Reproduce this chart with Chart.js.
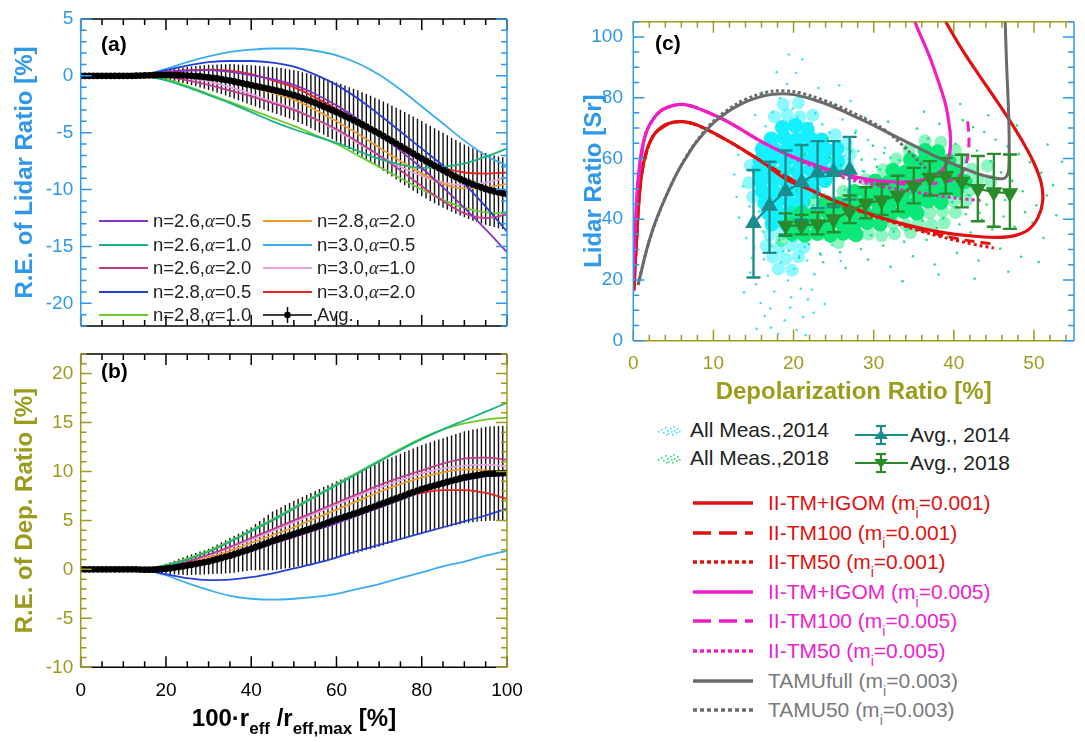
<!DOCTYPE html>
<html>
<head>
<meta charset="utf-8">
<title>Relative error and lidar ratio vs depolarization</title>
<script src="https://cdn.jsdelivr.net/npm/chart.js@4/dist/chart.umd.min.js"></script>
<style>
body { margin: 0; background: #fff; }
#page { position: relative; width: 1085px; height: 742px; overflow: hidden; font-family: "Liberation Sans", Arial, sans-serif; }
#page canvas { position: absolute; }
.tag { position: absolute; font-weight: bold; font-size: 21px; line-height: 21px; color: #000; }
.leg { position: absolute; white-space: nowrap; height: 20px; line-height: 20px; }
.leg svg { position: absolute; left: 0; top: 0; }
.leg span.t { position: absolute; top: 0; }
.gr { font-family: "Liberation Serif", "DejaVu Serif", serif; font-style: italic; }
#xtitleB { position: absolute; left: 294px; top: 706px; transform: translateX(-50%); font-weight: bold; font-size: 24px; line-height: 24px; white-space: nowrap; color: #000; }
#xtitleB sub { font-size: 17px; vertical-align: -8px; line-height: 0; }
.mi sub { font-size: 14px; vertical-align: -8px; line-height: 0; }
</style>
</head>
<body>
<div id="page">
  <canvas id="cA" width="540" height="345" style="left:0;top:0"></canvas>
  <canvas id="cB" width="540" height="407" style="left:0;top:335px"></canvas>
  <canvas id="cC" width="545" height="410" style="left:540px;top:0"></canvas>
  <div class="tag" style="left:101px;top:33px">(a)</div>
  <div class="tag" style="left:101px;top:360px">(b)</div>
  <div class="tag" style="left:655px;top:32px">(c)</div>
  <div id="xtitleB">100·r<sub>eff</sub> /r<sub>eff,max</sub> [%]</div>
  <div id="legA"></div>
  <div id="legC"></div>
</div>
<script>
// ---------- panels (a) and (b): relative errors vs 100*r_eff/r_eff,max ----------
var curveX = [0, 5, 10, 15, 20, 25, 30, 35, 40, 45, 50, 55, 60, 65, 70, 75, 80, 85, 90, 95, 100];

// R.E. of lidar ratio [%]
var lidar_26_05 = [0, 0, 0, 0.05, 0.3, 0.45, 0.5, 0.35, 0.05, -0.3, -0.8, -1.6, -2.6, -3.8, -5.1, -6.6, -8.1, -9.8, -11.6, -13.5, -15.5];
var lidar_26_10 = [0, 0, 0, -0.05, -0.4, -1.0, -1.7, -2.4, -3.2, -4.0, -4.7, -5.3, -5.9, -6.6, -7.3, -7.8, -8.1, -8.0, -7.7, -7.1, -6.4];
var lidar_26_20 = [0, 0, 0, 0, -0.1, -0.4, -0.8, -1.3, -1.8, -2.4, -3.0, -3.8, -4.7, -5.8, -7.0, -8.3, -9.7, -11.0, -12.1, -12.5, -12.2];
var lidar_28_05 = [0, 0, 0, 0.1, 0.5, 0.9, 1.2, 1.3, 1.3, 1.15, 0.8, 0.1, -0.8, -2.0, -3.4, -4.9, -6.4, -7.9, -9.5, -11.5, -13.7];
var lidar_28_10 = [0, 0, 0, -0.05, -0.3, -0.9, -1.6, -2.3, -3.0, -3.7, -4.4, -5.2, -6.0, -7.0, -8.0, -9.0, -10.0, -10.9, -11.6, -12.0, -12.1];
var lidar_28_20 = [0, 0, 0, 0.05, 0.15, 0.15, 0, -0.4, -1.0, -1.5, -2.1, -3.0, -4.0, -5.1, -6.3, -7.5, -8.6, -9.5, -9.9, -9.8, -9.5];
var lidar_30_05 = [0, 0, 0, 0.1, 0.6, 1.2, 1.7, 2.1, 2.3, 2.4, 2.4, 2.2, 1.8, 1.1, 0.1, -1.2, -2.7, -4.2, -5.7, -7.0, -7.9];
var lidar_30_10 = [0, 0, 0, 0, 0, -0.2, -0.5, -1.0, -1.6, -2.3, -2.9, -3.8, -4.8, -5.9, -7.0, -8.0, -8.8, -9.4, -9.6, -9.4, -8.9];
var lidar_30_20 = [0, 0, 0, 0.1, 0.35, 0.5, 0.55, 0.45, 0.15, -0.4, -1.0, -1.9, -2.9, -4.0, -5.2, -6.4, -7.4, -8.1, -8.5, -8.6, -8.5];

// R.E. of depolarization ratio [%]
var dep_26_05 = [0, 0, 0, 0, 0.15, 0.45, 0.9, 1.4, 1.9, 2.6, 3.3, 4.0, 4.7, 5.5, 6.3, 7.1, 7.9, 8.6, 9.1, 9.5, 9.6];
var dep_26_10 = [0, 0, 0, 0.05, 0.4, 1.0, 1.8, 2.8, 3.9, 5.0, 6.2, 7.4, 8.6, 9.8, 11.0, 12.2, 13.3, 14.3, 15.2, 16.1, 17.0];
var dep_26_20 = [0, 0, 0, 0.03, 0.3, 0.8, 1.5, 2.3, 3.2, 4.1, 5.0, 5.9, 6.8, 7.7, 8.6, 9.4, 10.1, 10.8, 11.3, 11.4, 11.2];
var dep_28_05 = [0, 0, 0, -0.1, -0.5, -0.9, -1.1, -1.05, -0.8, -0.4, 0.1, 0.6, 1.2, 1.9, 2.5, 3.1, 3.7, 4.3, 4.9, 5.5, 6.2];
var dep_28_10 = [0, 0, 0, 0.05, 0.45, 1.1, 1.9, 2.9, 4.0, 5.1, 6.3, 7.5, 8.7, 9.9, 11.1, 12.3, 13.4, 14.3, 14.9, 15.3, 15.5];
var dep_28_20 = [0, 0, 0, 0.02, 0.25, 0.65, 1.2, 1.9, 2.7, 3.5, 4.3, 5.2, 6.1, 7.0, 7.9, 8.7, 9.4, 9.9, 10.2, 10.1, 9.7];
var dep_30_05 = [0, 0, 0, -0.1, -0.6, -1.4, -2.1, -2.7, -3.0, -3.1, -3.0, -2.8, -2.5, -2.0, -1.5, -0.9, -0.3, 0.3, 0.8, 1.4, 1.9];
var dep_30_10 = [0, 0, 0, 0.03, 0.3, 0.75, 1.4, 2.2, 3.0, 3.9, 4.8, 5.7, 6.6, 7.5, 8.3, 9.1, 9.8, 10.3, 10.6, 10.7, 10.5];
var dep_30_20 = [0, 0, 0, 0, 0.1, 0.4, 0.9, 1.5, 2.2, 2.9, 3.7, 4.5, 5.2, 6.0, 6.7, 7.3, 7.8, 8.1, 8.1, 7.8, 7.2];

// average of the nine cases with its spread
var avgX = [0, 1, 2, 3, 4, 5, 6, 7, 8, 9, 10, 11, 12, 13, 14, 15, 16, 17, 18, 19, 20,
  21, 22, 23, 24, 25, 26, 27, 28, 29, 30, 31, 32, 33, 34, 35, 36, 37, 38, 39, 40,
  41, 42, 43, 44, 45, 46, 47, 48, 49, 50, 51, 52, 53, 54, 55, 56, 57, 58, 59, 60,
  61, 62, 63, 64, 65, 66, 67, 68, 69, 70, 71, 72, 73, 74, 75, 76, 77, 78, 79, 80,
  81, 82, 83, 84, 85, 86, 87, 88, 89, 90, 91, 92, 93, 94, 95, 96, 97, 98, 99, 100];
var avgLidar = [0, 0, 0, 0, 0, 0, 0, 0, 0, 0, 0, 0, 0,
  0.01, 0.02, 0.03, 0.04, 0.05, 0.06, 0.06, 0.06,
  0.06, 0.06, 0.05, 0.04, 0.02, 0, -0.03, -0.06, -0.1, -0.14,
  -0.19, -0.24, -0.3, -0.36, -0.42, -0.5, -0.58, -0.66, -0.74, -0.82,
  -0.9, -0.98, -1.06, -1.14, -1.22, -1.31, -1.4, -1.5, -1.6, -1.7,
  -1.83, -1.96, -2.1, -2.24, -2.38, -2.54, -2.7, -2.86, -3.02, -3.18,
  -3.36, -3.54, -3.72, -3.9, -4.08, -4.28, -4.48, -4.68, -4.88, -5.08,
  -5.3, -5.52, -5.74, -5.96, -6.18, -6.4, -6.62, -6.84, -7.06, -7.28,
  -7.49, -7.7, -7.9, -8.1, -8.3, -8.5, -8.7, -8.89, -9.07, -9.24,
  -9.4, -9.55, -9.69, -9.82, -9.94, -10.05, -10.15, -10.24, -10.32, -10.4];
var errLidar = [0, 0, 0, 0, 0, 0, 0, 0, 0, 0, 0,
  0.01, 0.03, 0.06, 0.1, 0.14, 0.18, 0.23, 0.28, 0.34, 0.4,
  0.47, 0.54, 0.61, 0.68, 0.75, 0.82, 0.89, 0.96, 1.03, 1.1,
  1.17, 1.24, 1.31, 1.38, 1.45, 1.51, 1.57, 1.63, 1.69, 1.75,
  1.8, 1.85, 1.9, 1.95, 2.0, 2.04, 2.08, 2.12, 2.16, 2.2,
  2.24, 2.28, 2.32, 2.36, 2.4, 2.44, 2.48, 2.52, 2.56, 2.6,
  2.64, 2.68, 2.72, 2.76, 2.8, 2.84, 2.88, 2.92, 2.96, 3.0,
  3.04, 3.08, 3.12, 3.16, 3.2, 3.22, 3.24, 3.26, 3.28, 3.3,
  3.3, 3.3, 3.3, 3.3, 3.3, 3.28, 3.26, 3.24, 3.22, 3.2,
  3.19, 3.18, 3.17, 3.16, 3.15, 3.15, 3.15, 3.15, 3.15, 3.15];
var avgDep = [0, 0, 0, 0, 0, 0, 0, 0, 0, 0, 0, 0, 0, 0,
  -0.02, -0.03, -0.03, -0.02, 0, 0.03, 0.07,
  0.12, 0.18, 0.25, 0.32, 0.4, 0.48, 0.56, 0.64, 0.72, 0.8,
  0.92, 1.04, 1.16, 1.28, 1.4, 1.54, 1.68, 1.82, 1.96, 2.1,
  2.26, 2.42, 2.58, 2.74, 2.9, 3.04, 3.18, 3.32, 3.46, 3.6,
  3.74, 3.88, 4.02, 4.16, 4.3, 4.46, 4.62, 4.78, 4.94, 5.1,
  5.24, 5.38, 5.52, 5.66, 5.8, 5.96, 6.12, 6.28, 6.44, 6.6,
  6.76, 6.92, 7.08, 7.24, 7.4, 7.56, 7.72, 7.88, 8.04, 8.2,
  8.32, 8.44, 8.56, 8.68, 8.8, 8.92, 9.04, 9.16, 9.28, 9.4,
  9.47, 9.54, 9.61, 9.68, 9.75, 9.77, 9.79, 9.81, 9.83, 9.85];
var errDep = [0, 0, 0, 0, 0, 0, 0, 0, 0, 0, 0, 0, 0,
  0.02, 0.05, 0.1, 0.18, 0.26, 0.34, 0.42, 0.5,
  0.6, 0.7, 0.8, 0.9, 1.0, 1.06, 1.12, 1.18, 1.24, 1.3,
  1.4, 1.5, 1.6, 1.7, 1.8, 1.88, 1.96, 2.04, 2.12, 2.2,
  2.36, 2.52, 2.68, 2.84, 3.0, 3.08, 3.16, 3.24, 3.32, 3.4,
  3.46, 3.52, 3.58, 3.64, 3.7, 3.74, 3.78, 3.82, 3.86, 3.9,
  3.94, 3.98, 4.02, 4.06, 4.1, 4.14, 4.18, 4.22, 4.26, 4.3,
  4.32, 4.34, 4.36, 4.38, 4.4, 4.42, 4.44, 4.46, 4.48, 4.5,
  4.52, 4.54, 4.56, 4.58, 4.6, 4.62, 4.64, 4.66, 4.68, 4.7,
  4.72, 4.74, 4.76, 4.78, 4.8, 4.81, 4.82, 4.83, 4.84, 4.85];

var caseN = ['2.6', '2.6', '2.6', '2.8', '2.8', '2.8', '3.0', '3.0', '3.0'];
var caseAlpha = ['0.5', '1.0', '2.0', '0.5', '1.0', '2.0', '0.5', '1.0', '2.0'];
var caseColors = ['#8136c6', '#17b584', '#c23b8c', '#2340d8', '#6acb2d', '#f29b2a', '#3aaef0', '#e6a3de', '#e4251f'];
var caseLidar = [lidar_26_05, lidar_26_10, lidar_26_20, lidar_28_05, lidar_28_10, lidar_28_20, lidar_30_05, lidar_30_10, lidar_30_20];
var caseDep = [dep_26_05, dep_26_10, dep_26_20, dep_28_05, dep_28_10, dep_28_20, dep_30_05, dep_30_10, dep_30_20];

// ---------- panel (c): lidar ratio vs depolarization ratio ----------
// all measurements: dense core, softer halo, and scattered single points
var meas2014Core = [[18.6,70.2],[20.2,70.8],[21.7,69.6],
  [17.2,66.4],[18.8,66.9],[20.4,66.2],[22.0,66.8],[23.5,66.1],
  [16.1,63.1],[17.7,62.6],[19.3,63.3],[20.9,62.8],[22.5,63.4],[24.1,62.7],[25.4,63.2],
  [15.8,59.4],[17.4,59.9],[19.0,59.2],[20.6,59.8],[22.2,59.3],[23.8,59.9],[25.5,59.1],
  [15.7,56.1],[17.3,55.6],[18.9,56.3],[20.5,55.8],[22.1,56.4],[23.7,55.7],[25.2,56.2],
  [15.9,52.4],[17.5,52.9],[19.1,52.2],[20.7,52.8],[22.3,52.3],[23.9,52.7],
  [16.1,49.2],[17.7,48.7],[19.3,49.3],[20.9,48.8],[22.5,49.1],
  [16.4,45.4],[18.0,45.9],[19.6,45.3],[21.2,45.8],
  [16.8,42.1],[18.4,41.6],[20.0,42.2],[21.4,41.7],
  [17.3,38.4],[18.9,38.9],[20.4,38.3]];
var meas2014Halo = [[17.0,34.8],[18.6,35.3],[20.2,34.6],[21.6,35.2],[16.6,31.2],[18.2,30.6],[19.8,31.4],[21.3,30.8],
  [17.4,27.5],[19.0,27.0],[20.6,27.7],[18.1,23.6],[19.8,23.2],
  [17.6,73.8],[19.2,74.4],[20.8,73.6],[22.4,74.2],[18.7,77.8],[20.6,78.3],
  [26.8,58.0],[27.1,61.6],[26.6,64.9],[25.2,67.8],[14.6,57.7],[14.4,52.0],[14.9,47.3],[23.9,45.6],[22.9,42.3]];
var meas2014Dots = [[13.2,40.5],[14.1,33.8],[14.8,27.2],[15.3,18.6],[15.9,12.4],[16.4,8.1],[17.2,4.3],[18.1,2.2],
  [18.9,6.7],[19.6,10.9],[20.4,3.5],[21.2,7.8],[21.8,13.6],[22.5,9.2],[16.8,21.4],[17.6,16.2],[18.4,25.7],
  [19.3,19.8],[20.1,23.6],[20.9,17.1],[21.7,26.4],[22.6,21.9],[23.4,28.3],[15.1,30.5],[16.2,35.9],[14.5,44.2],
  [13.7,50.8],[14.9,57.3],[15.6,64.1],[16.5,70.6],[17.4,75.2],[18.3,79.8],[19.2,84.5],[20.3,88.1],[21.1,92.6],
  [19.9,76.4],[21.8,80.3],[22.7,74.9],[23.6,71.2],[24.5,68.5],[25.4,64.3],[26.3,60.8],[27.2,57.6],[28.1,62.4],
  [29.3,66.1],[30.2,59.7],[31.4,63.5],[27.8,69.2],[26.1,72.8],[24.9,77.5],[23.1,83.2],[17.9,88.4],[16.1,81.7],
  [15.2,74.3],[14.3,67.9],[13.1,61.2],[12.6,54.7],[12.9,47.3],[17.3,31.2],[18.7,29.4],[19.8,32.6],[21.4,30.8],
  [22.9,33.7],[24.2,36.4],[25.6,39.8],[24.7,45.3],[26.4,49.7],[27.5,52.3],[28.6,55.8],[15.7,42.6],[16.9,48.9],
  [18.2,54.6],[19.5,58.3],[20.6,61.9],[21.9,65.4],[23.2,62.7],[22.1,55.1],[20.8,51.4],[19.1,47.2],[17.8,43.5],
  [16.6,39.1],[18.5,37.8],[20.2,40.3],[22.4,44.6],[23.8,48.2],[25.1,52.9],[26.7,56.2],[14.6,22.4],[13.8,15.9],
  [19.7,14.3],[22.3,16.8],[23.9,12.1],[17.1,10.6],[20.7,27.9],[16.3,26.8],[24.8,31.5],[25.9,26.2],[15.4,3.9],
  [21.5,1.8],[18.6,69.3],[20.5,73.7],[22.2,71.6],[17.5,64.8],[16.4,58.7],[15.8,52.1],[29.7,51.6],[30.8,56.4],
  [32.1,60.2],[28.9,73.5],[27.1,78.9],[25.7,84.1],[19.4,94.2]];
var meas2018Core = [[19.8,35.2],[21.4,34.7],[23.0,35.3],[24.6,34.8],[26.2,35.4],[27.8,34.9],
  [19.6,38.6],[21.2,38.1],[22.8,38.7],[24.4,38.2],[26.0,38.8],[27.6,38.3],[29.2,38.9],[30.8,38.4],
  [21.0,42.1],[22.6,41.6],[24.2,42.2],[25.8,41.7],[27.4,42.3],[29.0,41.8],[30.6,42.4],[32.2,41.9],[33.8,42.5],[35.4,42.0],
  [24.0,45.6],[25.6,45.1],[27.2,45.7],[28.8,45.2],[30.4,45.8],[32.0,45.3],[33.6,45.9],[35.2,45.4],[36.8,46.0],[38.4,45.5],
  [27.6,49.1],[29.2,48.6],[30.8,49.2],[32.4,48.7],[34.0,49.3],[35.6,48.8],[37.2,49.4],[38.8,48.9],[40.4,49.5],
  [30.2,52.6],[31.8,52.1],[33.4,52.7],[35.0,52.2],[36.6,52.8],[38.2,52.3],[39.8,52.9],[41.4,52.4],
  [32.4,56.1],[34.0,55.6],[35.6,56.2],[37.2,55.7],[38.8,56.3],[40.4,55.8],
  [34.6,59.6],[36.2,59.1],[37.8,59.7],[39.4,59.2],[36.4,62.6],[38.0,62.2]];
var meas2018Halo = [[32.4,38.6],[34.0,38.1],[35.6,38.7],[37.2,38.2],[38.8,38.8],[29.4,35.1],[31.0,34.6],[32.6,35.2],[34.6,35.6],
  [37.0,42.1],[38.6,42.6],[40.2,42.2],[40.0,45.9],[41.6,46.3],[42.0,49.6],[43.0,53.0],[42.2,56.4],[41.0,59.8],
  [40.2,62.8],[38.4,65.3],[36.4,65.8],[34.4,63.0],[32.8,59.8],[31.2,56.3],[29.0,53.0],[26.2,49.2],[22.6,45.6],[19.8,42.2],
  [18.5,33.0],[25.6,32.3],[44.2,57.6],[44.6,52.5]];
var meas2018Dots = [[18.2,33.1],[19.4,29.6],[20.7,27.3],[21.9,31.8],[23.3,28.7],[24.6,32.4],[25.8,29.1],[27.1,33.6],
  [28.4,30.2],[29.7,34.7],[31.2,31.3],[32.5,35.9],[33.8,32.6],[35.2,36.4],[36.6,33.2],[37.9,37.1],[39.3,34.4],
  [40.7,38.3],[42.1,35.6],[43.5,39.8],[44.8,36.7],[46.2,40.9],[47.6,37.5],[48.9,42.3],[50.3,44.6],[51.6,47.8],
  [52.4,51.2],[50.9,55.3],[49.5,58.7],[48.1,61.4],[46.7,63.9],[45.2,66.2],[43.8,68.7],[42.4,70.3],[41.1,72.6],
  [39.6,68.9],[38.2,71.4],[36.8,66.5],[35.4,69.8],[34.1,63.7],[32.7,66.9],[31.3,61.8],[29.9,64.2],[28.5,59.6],
  [27.2,62.3],[25.9,57.8],[24.5,60.4],[23.1,55.2],[21.8,52.7],[20.4,49.3],[19.1,46.8],[22.6,48.1],[24.1,51.6],
  [26.3,53.4],[28.8,55.7],[30.4,57.2],[33.2,59.4],[37.4,63.1],[40.2,64.8],[42.9,62.5],[44.6,59.1],[45.9,55.4],
  [47.3,52.6],[48.6,49.2],[46.4,46.3],[44.1,44.8],[43.2,42.1],[41.5,41.6],[38.7,40.2],[36.1,39.5],[33.5,38.4],
  [30.9,37.2],[28.2,36.1],[25.4,35.3],[22.8,34.8],[20.1,36.9],[19.6,41.7],[21.3,44.5],[23.7,25.8],[26.5,23.9],
  [29.3,26.7],[32.1,24.3],[34.9,27.8],[37.6,25.1],[40.4,28.9],[43.1,26.4],[45.8,30.3],[48.4,27.6],[51.2,33.8],
  [49.8,38.9],[52.8,41.3],[53.5,58.9],[51.7,64.6],[47.9,70.8],[44.3,74.2],[40.8,77.9],[36.3,75.4],[31.8,72.1],
  [27.7,68.4],[24.2,66.7],[21.4,61.3],[19.8,56.2],[46.8,22.7],[42.6,20.4],[38.1,21.8],[33.6,19.6],[50.6,25.9],
  [35.7,42.8],[39.8,45.6],[41.9,47.9],[37.2,44.1],[34.4,41.5]];

var avg2014X = [15, 17, 19, 21, 23, 25, 27];
var avg2014Y = [38.7, 44.4, 49.2, 52.1, 55.3, 55.5, 56.2];
var avg2014Lo = [20.8, 28.9, 35.0, 39.8, 43.6, 44.0, 46.5];
var avg2014Hi = [56.2, 58.9, 62.6, 64.4, 65.7, 65.7, 67.1];
var avg2018X = [19, 21, 23, 25, 27, 29, 31, 33, 35, 37, 39, 41, 43, 45, 47];
var avg2018Y = [37.9, 37.9, 38.4, 40.0, 42.5, 45.2, 46.2, 47.8, 51.0, 53.7, 54.3, 52.4, 50.0, 48.9, 48.6];
var avg2018Lo = [34.5, 35.0, 35.0, 35.7, 38.7, 40.3, 41.4, 42.5, 45.2, 47.8, 48.4, 43.9, 39.3, 37.5, 36.8];
var avg2018Hi = [41.9, 41.4, 42.3, 44.9, 47.8, 50.5, 51.6, 54.3, 56.9, 59.1, 60.1, 61.2, 60.8, 61.5, 61.3];

// model curves (depolarization ratio, lidar ratio)
var igom001X = [0.1, 0.3, 0.6, 1.0, 1.6, 2.5, 3.8, 5.0, 6.2, 7.5, 9.0, 12.0, 16.0, 19.0, 22.0, 25.0, 28.0, 31.0, 34.0, 37.0, 40.0, 43.0, 45.5, 47.5, 49.3, 50.5, 51.1, 50.9, 50.0, 48.6, 46.9, 45.0, 43.0, 41.0, 39.2, 38.6];
var igom001Y = [16.5, 28, 42, 54, 62, 67.5, 70.8, 71.9, 72.1, 71.4, 69.8, 65.5, 59.0, 53.2, 49.8, 46.2, 43.2, 40.5, 38.2, 36.4, 35.1, 34.3, 34.0, 34.5, 36.5, 40.5, 46.0, 52.0, 58.5, 65.5, 72.8, 80.3, 88.0, 96.0, 104.0, 107];
var tm100_001X = [0.3, 1.0, 2.5, 5.0, 7.5, 12.0, 16.0, 22.0, 28.0, 34.0, 37.0, 39.5, 41.5, 43.5, 45.0];
var tm100_001Y = [28, 54, 67.5, 71.9, 71.4, 65.5, 59.0, 49.8, 43.0, 37.9, 35.7, 34.1, 33.1, 32.3, 31.8];
var tm50_001X = [0.3, 1.0, 2.5, 5.0, 7.5, 12.0, 16.0, 22.0, 28.0, 34.0, 37.0, 39.5, 41.5, 43.5, 45.0];
var tm50_001Y = [28, 54, 67.5, 71.9, 71.4, 65.5, 59.0, 49.8, 42.9, 37.6, 35.2, 33.5, 32.3, 31.2, 30.5];
var igom005X = [0, 0.2, 0.5, 1.0, 1.6, 2.5, 3.5, 4.8, 6.2, 7.5, 9.0, 12.0, 16.0, 19.3, 22.0, 25.0, 28.0, 31.0, 34.0, 36.5, 38.3, 39.3, 39.6, 39.4, 38.9, 38.0, 36.9, 35.6, 35.0];
var igom005Y = [20, 35, 50, 62, 68.5, 73, 75.8, 77.3, 77.8, 77.0, 75.5, 71.8, 65.5, 61.2, 58.5, 55.8, 53.8, 52.5, 52.3, 53.2, 55.5, 59.5, 65.5, 71.5, 78.5, 86, 94, 102, 106];
var tm100_005X = [0.5, 1.6, 3.5, 6.2, 9.0, 12.0, 16.0, 19.3, 22.0, 25.0, 28.0, 31.0, 34.0, 37.0, 39.5, 41.0, 41.7, 41.9, 41.7];
var tm100_005Y = [50, 68.5, 75.8, 77.8, 75.5, 71.8, 65.5, 61.2, 58.3, 55.4, 53.2, 52.0, 51.6, 51.7, 52.6, 55.0, 60.0, 66.5, 73.0];
var tm50_005X = [0.5, 1.6, 3.5, 6.2, 9.0, 12.0, 16.0, 19.3, 22.0, 25.0, 28.0, 31.0, 34.0, 37.0, 40.0, 43.5];
var tm50_005Y = [50, 68.5, 75.8, 77.8, 75.5, 71.8, 65.5, 61.0, 57.8, 54.8, 52.5, 50.8, 49.4, 48.2, 47.0, 46.1];
var tamuFullX = [0.6, 1.2, 1.8, 2.6, 3.5, 4.5, 5.6, 6.6, 7.6, 8.8, 10.1, 11.5, 13.0, 15.0, 17.5, 20.0, 22.4, 24.5, 26.6, 28.7, 30.8, 32.9, 34.9, 37.0, 39.1, 41.2, 43.2, 44.6, 45.7, 46.4, 46.8, 46.9, 46.9, 46.8, 46.6, 46.4];
var tamuFullY = [18.4, 25, 31.2, 38, 44, 50, 55.9, 60.3, 64.4, 68.3, 71.9, 74.8, 77.3, 79.6, 81.1, 81.0, 79.4, 77.5, 75.1, 72.5, 69.8, 67.0, 64.4, 61.6, 59.1, 56.8, 54.8, 53.8, 53.3, 53.6, 55.5, 60, 68, 78, 90, 106];
var tamu50X = [0.6, 1.8, 3.5, 5.6, 7.6, 10.1, 13.0, 15.0, 17.5, 20.0, 22.4, 24.5, 26.6, 28.7, 30.8, 32.6, 34.2, 35.5, 36.8];
var tamu50Y = [18.4, 31.2, 44, 55.9, 64.6, 72.5, 78.1, 80.5, 82.2, 82.0, 80.4, 78.4, 76.0, 73.3, 70.4, 66.8, 62.8, 59.3, 56.0];

var modelNames = ['II-TM+IGOM', 'II-TM100', 'II-TM50', 'II-TM+IGOM', 'II-TM100', 'II-TM50', 'TAMUfull', 'TAMU50'];
var modelMi = ['0.001', '0.001', '0.001', '0.005', '0.005', '0.005', '0.003', '0.003'];

// ---------- colours ----------
var blueAx = '#2e98ec';
var oliveAx = '#9c9c1c';
var cRed = '#e0120f', cMag = '#f01fc4', cGrey = '#6a6a6a';
var cTeal = '#1b8d8d', cGreen = '#2b8a2b';

Chart.defaults.font.family = '"Liberation Sans", Arial, sans-serif';

function pts(xs, ys) {
  var out = [];
  for (var i = 0; i < xs.length; i++) out.push({ x: xs[i], y: ys[i] });
  return out;
}
function pairs(list) {
  return list.map(function (p) { return { x: p[0], y: p[1] }; });
}

// frame with inward major/minor ticks on all four sides
function isMult(v, step) { return Math.abs(v / step - Math.round(v / step)) < 1e-6; }
var frameTicks = {
  id: 'frame',
  afterDatasetsDraw: function (chart, args, o) {
    var ctx = chart.ctx, a = chart.chartArea, xs = chart.scales.x, ys = chart.scales.y;
    var i, n, v, p, len, first;
    ctx.save();
    ctx.lineWidth = 1.5;
    ctx.strokeStyle = o.xColor;
    ctx.beginPath();
    ctx.moveTo(a.left, a.top); ctx.lineTo(a.right, a.top);
    ctx.moveTo(a.left, a.bottom); ctx.lineTo(a.right, a.bottom);
    first = Math.ceil(xs.min / o.xMinor - 1e-9);
    n = Math.floor(xs.max / o.xMinor + 1e-9);
    for (i = first; i <= n; i++) {
      v = i * o.xMinor; p = xs.getPixelForValue(v);
      len = isMult(v, o.xMajor) ? 11 : 6;
      ctx.moveTo(p, a.top); ctx.lineTo(p, a.top + len);
      ctx.moveTo(p, a.bottom); ctx.lineTo(p, a.bottom - len);
    }
    ctx.stroke();
    ctx.strokeStyle = o.yColor;
    ctx.beginPath();
    ctx.moveTo(a.left, a.top); ctx.lineTo(a.left, a.bottom);
    ctx.moveTo(a.right, a.top); ctx.lineTo(a.right, a.bottom);
    first = Math.ceil(ys.min / o.yMinor - 1e-9);
    n = Math.floor(ys.max / o.yMinor + 1e-9);
    for (i = first; i <= n; i++) {
      v = i * o.yMinor; p = ys.getPixelForValue(v);
      len = isMult(v, o.yMajor) ? 11 : 6;
      ctx.moveTo(a.left, p); ctx.lineTo(a.left + len, p);
      ctx.moveTo(a.right, p); ctx.lineTo(a.right - len, p);
    }
    ctx.stroke();
    ctx.restore();
  }
};

// vertical error bars, drawn through the chart scales
function drawErr(chart, i) {
  var ds = chart.data.datasets[i];
  if (!ds.errLo) return;
  var ctx = chart.ctx, xs = chart.scales.x, ys = chart.scales.y, a = chart.chartArea;
  ctx.save();
  ctx.beginPath();
  ctx.rect(a.left, a.top, a.right - a.left, a.bottom - a.top);
  ctx.clip();
  ctx.strokeStyle = ds.errColor;
  ctx.lineWidth = ds.errWidth;
  ctx.beginPath();
  for (var j = 0; j < ds.data.length; j++) {
    var px = xs.getPixelForValue(ds.data[j].x);
    var p1 = ys.getPixelForValue(ds.errLo[j]), p2 = ys.getPixelForValue(ds.errHi[j]);
    ctx.moveTo(px, p1); ctx.lineTo(px, p2);
    if (ds.errCap) {
      ctx.moveTo(px - ds.errCap, p1); ctx.lineTo(px + ds.errCap, p1);
      ctx.moveTo(px - ds.errCap, p2); ctx.lineTo(px + ds.errCap, p2);
    }
  }
  ctx.stroke();
  ctx.restore();
}
var errorBars = {
  id: 'errorBars',
  beforeDatasetsDraw: function (chart) {
    chart.data.datasets.forEach(function (ds, i) { if (ds.errUnder) drawErr(chart, i); });
  },
  beforeDatasetDraw: function (chart, args) {
    if (!chart.data.datasets[args.index].errUnder) drawErr(chart, args.index);
  }
};

function relErrSets(values, avg, err) {
  var sets = [];
  var lo = [], hi = [];
  for (var i = 0; i < avg.length; i++) { lo.push(avg[i] - err[i]); hi.push(avg[i] + err[i]); }
  sets.push({
    data: pts(avgX, avg), showLine: true, borderColor: '#000', backgroundColor: '#000',
    borderWidth: 2, pointRadius: 3.4, pointBorderWidth: 0, order: 0,
    errLo: lo, errHi: hi, errColor: '#111', errWidth: 1.4, errCap: 0, errUnder: true
  });
  for (var k = 0; k < values.length; k++) {
    sets.push({
      data: pts(curveX, values[k]), showLine: true, borderColor: caseColors[k],
      borderWidth: 1.8, pointRadius: 0, cubicInterpolationMode: 'monotone', order: 1 + k
    });
  }
  return sets;
}

function yAxis(min, max, color, title, titlePad) {
  return {
    type: 'linear', min: min, max: max,
    ticks: { stepSize: 5, includeBounds: false, color: color, font: { size: 19 }, padding: 7.5 },
    grid: { display: false, drawTicks: false }, border: { display: false },
    title: { display: true, text: title, color: color, font: { size: 24, weight: 'bold' }, padding: { top: titlePad, bottom: 0 } },
    afterFit: function (s) { s.width = 80.7; }
  };
}

var hideLegend = { display: false };
var hideTooltip = { enabled: false };

// panel (a)
new Chart(document.getElementById('cA'), {
  type: 'scatter',
  data: { datasets: relErrSets(caseLidar, avgLidar, errLidar) },
  options: {
    responsive: false, animation: false,
    layout: { padding: { left: 0, right: 33, top: 14, bottom: 5 } },
    plugins: { legend: hideLegend, tooltip: hideTooltip,
      frame: { xColor: '#000', yColor: blueAx, xMinor: 5, xMajor: 20, yMinor: 1, yMajor: 5 } },
    scales: {
      x: { type: 'linear', min: 0, max: 100, display: false },
      y: yAxis(-22, 5, blueAx, 'R.E. of Lidar Ratio [%]', 10.5)
    }
  },
  plugins: [frameTicks, errorBars]
});

// panel (b)
new Chart(document.getElementById('cB'), {
  type: 'scatter',
  data: { datasets: relErrSets(caseDep, avgDep, errDep) },
  options: {
    responsive: false, animation: false,
    layout: { padding: { left: 0, right: 33, top: 5, bottom: 0 } },
    plugins: { legend: hideLegend, tooltip: hideTooltip,
      frame: { xColor: '#000', yColor: oliveAx, xMinor: 5, xMajor: 20, yMinor: 1, yMajor: 5 } },
    scales: {
      x: {
        type: 'linear', min: 0, max: 100,
        ticks: { stepSize: 20, color: '#000', font: { size: 19 }, padding: 12 },
        grid: { display: false, drawTicks: false }, border: { display: false },
        afterFit: function (s) { s.height = 74.7; }
      },
      y: yAxis(-10, 22, oliveAx, 'R.E. of Dep. Ratio [%]', 10.5)
    }
  },
  plugins: [frameTicks, errorBars]
});

// panel (c)
function curve(xs, ys, color, dash, width, order) {
  return { data: pts(xs, ys), showLine: true, borderColor: color, borderWidth: width,
    borderDash: dash, pointRadius: 0, tension: 0.3, order: order };
}
function cloud(list, radius, color, order) {
  return { data: pairs(list), pointRadius: radius, pointBorderWidth: 0, backgroundColor: color, order: order };
}
var setsC = [
  { data: pts(avg2018X, avg2018Y), showLine: true, borderColor: cGreen, backgroundColor: cGreen,
    borderWidth: 2.2, pointStyle: 'triangle', rotation: 180, pointRadius: 7.5, order: 0,
    errLo: avg2018Lo, errHi: avg2018Hi, errColor: cGreen, errWidth: 2.4, errCap: 7 },
  { data: pts(avg2014X, avg2014Y), showLine: true, borderColor: cTeal, backgroundColor: cTeal,
    borderWidth: 2.2, pointStyle: 'triangle', pointRadius: 7.5, order: 1,
    errLo: avg2014Lo, errHi: avg2014Hi, errColor: cTeal, errWidth: 2.4, errCap: 7 },
  curve(tamu50X, tamu50Y, cGrey, [3, 2.5], 3, 2),
  curve(tamuFullX, tamuFullY, cGrey, [], 3, 3),
  curve(tm50_005X, tm50_005Y, cMag, [3, 3], 3, 4),
  curve(tm100_005X, tm100_005Y, cMag, [10, 6], 3, 5),
  curve(igom005X, igom005Y, cMag, [], 3.2, 6),
  curve(tm50_001X, tm50_001Y, cRed, [3, 3], 3, 7),
  curve(tm100_001X, tm100_001Y, cRed, [10, 6], 3, 8),
  curve(igom001X, igom001Y, cRed, [], 3.2, 9),
  cloud(meas2018Dots, 1.3, 'rgba(30,222,120,0.95)', 10),
  cloud(meas2018Core, 7.5, 'rgb(10,232,120)', 11),
  cloud(meas2018Halo, 6.5, 'rgba(0,232,115,0.45)', 12),
  cloud(meas2014Dots, 1.3, 'rgba(50,228,242,0.95)', 13),
  cloud(meas2014Core, 7.5, 'rgb(20,240,255)', 14),
  cloud(meas2014Halo, 6.5, 'rgba(0,240,255,0.45)', 15)
];

new Chart(document.getElementById('cC'), {
  type: 'scatter',
  data: { datasets: setsC },
  options: {
    responsive: false, animation: false,
    layout: { padding: { left: 0, right: 11, top: 14, bottom: 0 } },
    plugins: { legend: hideLegend, tooltip: hideTooltip,
      frame: { xColor: oliveAx, yColor: blueAx, xMinor: 2, xMajor: 10, yMinor: 5, yMajor: 20 } },
    scales: {
      x: {
        type: 'linear', min: 0, max: 55,
        ticks: { stepSize: 10, includeBounds: false, color: oliveAx, font: { size: 19 }, padding: 12 },
        grid: { display: false, drawTicks: false }, border: { display: false },
        title: { display: true, text: 'Depolarization Ratio [%]', color: oliveAx, font: { size: 24, weight: 'bold' }, padding: { top: 0, bottom: 3.6 } },
        afterFit: function (s) { s.height = 69.3; }
      },
      y: {
        type: 'linear', min: 0, max: 105,
        ticks: { stepSize: 20, includeBounds: false, color: blueAx, font: { size: 19 }, padding: 10.3 },
        grid: { display: false, drawTicks: false }, border: { display: false },
        title: { display: true, text: 'Lidar Ratio [Sr]', color: blueAx, font: { size: 24, weight: 'bold' }, padding: { top: 40, bottom: 0 } },
        afterFit: function (s) { s.width = 93.3; }
      }
    }
  },
  plugins: [frameTicks, errorBars]
});

// ---------- legends (HTML) ----------
var legA = document.getElementById('legA');
var rowYA = [221, 244.5, 268, 291.5, 315];
var colA = [99, 263];
function addLegA(idx, color, html, isAvg) {
  var col = idx < 5 ? 0 : 1, row = idx % 5;
  var d = document.createElement('div');
  d.className = 'leg';
  d.style.left = colA[col] + 'px';
  d.style.top = (rowYA[row] - 10) + 'px';
  d.style.fontSize = '18.5px';
  d.style.color = '#222';
  var svg = '<svg width="50" height="20">';
  if (isAvg) {
    svg += '<line x1="0" y1="10" x2="49" y2="10" stroke="#000" stroke-width="1.5"/>' +
      '<line x1="24.5" y1="2" x2="24.5" y2="18" stroke="#000" stroke-width="1.5"/>' +
      '<circle cx="24.5" cy="10" r="3.3" fill="#000"/>';
  } else {
    svg += '<line x1="0" y1="10" x2="49" y2="10" stroke="' + color + '" stroke-width="2"/>';
  }
  svg += '</svg>';
  d.innerHTML = svg + '<span class="t" style="left:54px">' + html + '</span>';
  legA.appendChild(d);
}
for (var k = 0; k < caseN.length; k++) {
  addLegA(k, caseColors[k], 'n=' + caseN[k] + ',<span class="gr">α</span>=' + caseAlpha[k], false);
}
addLegA(9, '#000', 'Avg.', true);

var legC = document.getElementById('legC');
function addDiv(left, y, html, color, size) {
  var d = document.createElement('div');
  d.className = 'leg';
  d.style.left = left + 'px';
  d.style.top = y + 'px';
  d.style.color = color;
  d.style.fontSize = size + 'px';
  d.innerHTML = html;
  legC.appendChild(d);
  return d;
}
function dotIcon(col) {
  var s = '<svg width="28" height="20">';
  var dots = [[3,11],[6,9],[8,12],[10,7],[12,10],[13,13],[15,8],[16,11],[18,6],[19,10],[21,12],[22,8],[24,11],[11,14],[17,14]];
  dots.forEach(function (p) { s += '<rect x="' + p[0] + '" y="' + p[1] + '" width="1.6" height="1.6" fill="' + col + '"/>'; });
  return s + '</svg>';
}
function avgIcon(col, down) {
  var tri = down ? '19,8 33,8 26,17' : '19,16 33,16 26,7';
  return '<svg width="54" height="24" style="top:-2px"><line x1="0" y1="12" x2="53" y2="12" stroke="' + col + '" stroke-width="2.2"/>' +
    '<line x1="26" y1="3" x2="26" y2="21" stroke="' + col + '" stroke-width="2.2"/>' +
    '<line x1="21" y1="3" x2="31" y2="3" stroke="' + col + '" stroke-width="2.2"/>' +
    '<line x1="21" y1="21" x2="31" y2="21" stroke="' + col + '" stroke-width="2.2"/>' +
    '<polygon points="' + tri + '" fill="' + col + '"/></svg>';
}
addDiv(655, 420, dotIcon('#39dff0') + '<span class="t" style="left:35px">All Meas.,2014</span>', '#222', 21);
addDiv(655, 448, dotIcon('#2fdc80') + '<span class="t" style="left:35px">All Meas.,2018</span>', '#222', 21);
addDiv(855, 425, avgIcon(cTeal, false) + '<span class="t" style="left:55px">Avg., 2014</span>', '#222', 21);
addDiv(855, 453, avgIcon(cGreen, true) + '<span class="t" style="left:55px">Avg., 2018</span>', '#222', 21);

var modelColors = [cRed, cRed, cRed, cMag, cMag, cMag, cGrey, cGrey];
var modelText = ['#e0120f', '#e0120f', '#e0120f', '#ee22cc', '#ee22cc', '#ee22cc', '#7a7a7a', '#7a7a7a'];
var modelDash = ['', '18,8', '4,3', '', '18,8', '4,3', '', '4,3'];
for (var m = 0; m < modelNames.length; m++) {
  var rowTop = 503 + 29.6 * m - 10;
  var dash = modelDash[m] ? ' stroke-dasharray="' + modelDash[m] + '"' : '';
  var icon = '<svg width="62" height="20"><line x1="0" y1="10" x2="60" y2="10" stroke="' + modelColors[m] +
    '" stroke-width="3.5"' + dash + '/></svg>';
  addDiv(693, rowTop, icon + '<span class="t mi" style="left:75px">' + modelNames[m] + ' (m<sub>i</sub>=' + modelMi[m] + ')</span>', modelText[m], 21);
}
</script>
</body>
</html>
